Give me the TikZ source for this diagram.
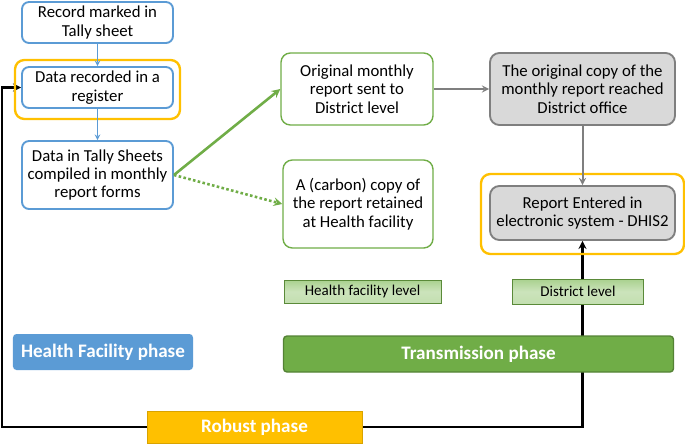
\documentclass[tikz,border=0pt]{standalone}
\usepackage{fontspec}
\setmainfont{Carlito}
\usetikzlibrary{backgrounds}

\definecolor{hfblue}{HTML}{5B9BD5}
\definecolor{trgreen}{HTML}{70AD47}
\definecolor{dkgreen}{HTML}{548235}
\definecolor{lvgreen}{HTML}{A9D18E}
\definecolor{dgray}{HTML}{7F7F7F}
\definecolor{lgray}{HTML}{D9D9D9}
\definecolor{rbyellow}{HTML}{FFC000}

\tikzset{
    every node/.style={font=\fontsize{14.3}{15.6}\selectfont, align=center, inner sep=0pt},
    bluebox/.style={draw=hfblue, line width=1.6pt, rounded corners=6pt, fill=white},
    greenbox/.style={draw=trgreen, line width=1.2pt, rounded corners=8pt, fill=white},
    graybox/.style={draw=dgray, line width=1.6pt, rounded corners=8pt, fill=lgray},
    ring/.style={draw=rbyellow, line width=2pt, rounded corners=8pt},
    levelbox/.style={draw=trgreen!80!black, line width=0.6pt, top color=lvgreen, bottom color=lvgreen!70!white, middle color=lvgreen!60!white, font=\fontsize{12.8}{14}\selectfont},
    phasebox/.style={text=white, font=\fontsize{16.3}{18}\selectfont\bfseries}
}

\begin{document}
\begin{tikzpicture}[x=0.03cm, y=-0.03cm]
        \useasboundingbox (0, 0) rectangle (685, 444);

        % health facility side
        \node[ring, minimum width=4.95cm, minimum height=1.77cm] (regring) at (97.5, 89.5) {};
        \node[bluebox, minimum width=4.53cm, minimum height=1.23cm] (rec) at (97.5, 22.5) {Record marked in\\Tally sheet};
        \node[bluebox, minimum width=4.53cm, minimum height=1.23cm] (reg) at (97.5, 87.5) {Data recorded in a\\register};
        \node[bluebox, minimum width=4.53cm, minimum height=2.04cm] (comp) at (97.5, 175) {Data in Tally Sheets\\compiled in monthly\\report forms};

        % transmission side
        \node[greenbox, minimum width=4.56cm, minimum height=2.16cm] (orig) at (357, 89) {Original monthly\\report sent to\\District level};
        \node[greenbox, minimum width=4.5cm, minimum height=2.64cm] (carbon) at (358, 204) {A (carbon) copy of\\the report retained\\at Health facility};

        % district side
        \node[graybox, minimum width=5.55cm, minimum height=2.16cm] (reached) at (582.5, 89) {The original copy of the\\monthly report reached\\District office};
        \node[ring, minimum width=6.09cm, minimum height=2.4cm] (dhisring) at (582.5, 214) {};
        \node[graybox, minimum width=5.55cm, minimum height=1.62cm] (dhis) at (582.5, 213) {Report Entered in\\electronic system - DHIS2};

        % levels and phases
        \node[levelbox, minimum width=4.71cm, minimum height=0.69cm] (hflevel) at (362.5, 291.5) {Health facility level};
        \node[levelbox, minimum width=3.93cm, minimum height=0.75cm] (dlevel) at (578, 291.5) {District level};
        \node[phasebox, fill=hfblue, rounded corners=3pt, minimum width=5.4cm, minimum height=1.08cm] (hfphase) at (103, 352) {Health Facility phase};
        \node[phasebox, fill=trgreen, draw=dkgreen, line width=1.2pt, rounded corners=3pt, minimum width=11.7cm, minimum height=1.08cm] (trans) at (478.5, 354) {Transmission phase};
        \node[phasebox, fill=rbyellow, draw=rbyellow!85!black, line width=0.6pt, minimum width=6.45cm, minimum height=0.96cm] (robust) at (254.5, 427) {Robust phase};

        \coordinate (lftbot) at (2, 427);
        \coordinate (lfttop) at (2, 87.5);

        % connectors
        \draw[hfblue, line width=1.1pt, -stealth] (rec) -- (reg);
        \draw[hfblue, line width=1.1pt, -stealth] (reg) -- (comp);
        \draw[trgreen, line width=2.2pt, -stealth] (comp.east) -- (orig.west);
        \draw[trgreen, line width=2.2pt, dotted, -stealth] (comp.east) -- (carbon.west);
        \draw[dgray, line width=1.7pt, -stealth] (orig) -- (reached);
        \draw[dgray, line width=1.7pt, -stealth] (reached) -- (dhis);

        \begin{pgfonlayer}{background}
            \draw[line width=2pt, -stealth] (robust.west) -- (lftbot) -- (lfttop) -- (reg.west);
            \draw[line width=2pt, -stealth] (robust.east) -| (dhis.south);
        \end{pgfonlayer}
    \end{tikzpicture}
\end{document}
